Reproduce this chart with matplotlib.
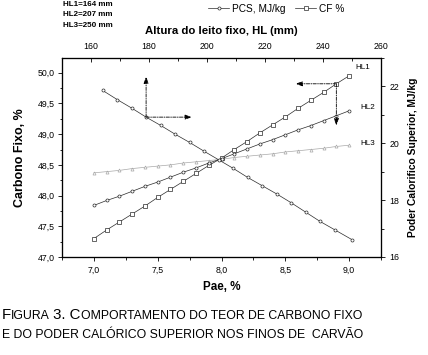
import numpy as np
import matplotlib
matplotlib.use("Agg")
import matplotlib.pyplot as plt
from matplotlib.lines import Line2D
from matplotlib.ticker import MultipleLocator, FuncFormatter

plt.rcParams['font.family'] = ['Liberation Sans', 'DejaVu Sans']

# ---- data ----
pae = [7.0, 7.1, 7.2, 7.3, 7.4, 7.5, 7.6, 7.7, 7.8, 7.9, 8.0,
       8.1, 8.2, 8.3, 8.4, 8.5, 8.6, 8.7, 8.8, 8.9, 9.0]
cf_hl1 = [47.30, 47.44, 47.57, 47.70, 47.83, 47.97, 48.10, 48.23, 48.36, 48.49, 48.61,
          48.75, 48.88, 49.02, 49.15, 49.28, 49.42, 49.55, 49.68, 49.82, 49.95]
cf_hl2 = [47.84, 47.92, 47.99, 48.07, 48.15, 48.22, 48.30, 48.38, 48.45, 48.53, 48.60,
          48.68, 48.76, 48.84, 48.91, 48.99, 49.07, 49.14, 49.22, 49.30, 49.38]
cf_hl3 = [48.37, 48.39, 48.41, 48.44, 48.46, 48.48, 48.50, 48.53, 48.55, 48.57, 48.59,
          48.62, 48.64, 48.66, 48.68, 48.71, 48.73, 48.75, 48.77, 48.80, 48.82]
hl = [164, 169, 174, 179, 184, 189, 194, 199, 204, 209, 214, 219, 224, 229, 234, 239, 244, 250]
pcs = [21.86, 21.54, 21.24, 20.92, 20.63, 20.32, 20.03, 19.72, 19.42, 19.12,
       18.80, 18.51, 18.22, 17.91, 17.58, 17.25, 16.96, 16.61]
series_labels = ['HL1', 'HL2', 'HL3']
hl_info = ['HL1=164 mm', 'HL2=207 mm', 'HL3=250 mm']

W, H = 428, 355
fig = plt.figure(figsize=(W / 100, H / 100), dpi=100)
L, R, B, T = 62, 381, 257, 58
ax = fig.add_axes([L / W, (H - B) / H, (R - L) / W, (B - T) / H])
axr = ax.twinx()
axt = axr.twiny()

dark = '#2a2a2a'
light = '#a8a8a8'
ms = 2.2
lw = 0.5
ax.plot(pae, cf_hl1, '-', marker='s', color=dark, lw=lw, ms=ms, mfc='white', mec=dark, mew=0.5, zorder=3)
ax.plot(pae, cf_hl2, '-', marker='o', color=dark, lw=lw, ms=ms, mfc='white', mec=dark, mew=0.5, zorder=3)
ax.plot(pae, cf_hl3, '-', marker='^', color=light, lw=lw, ms=ms, mfc='white', mec=light, mew=0.5, zorder=2)
axt.plot(hl, pcs, '-', marker='o', color=dark, lw=lw, ms=ms, mfc='white', mec=dark, mew=0.5)

ax.set_xlim(6.75, 9.25)
ax.set_ylim(47.0, 50.24)
axr.set_ylim(16, 23)
axt.set_xlim(150, 260)

comma = FuncFormatter(lambda v, p: ('%.1f' % v).replace('.', ','))
ax.xaxis.set_major_locator(MultipleLocator(0.5))
ax.xaxis.set_minor_locator(MultipleLocator(0.25))
ax.yaxis.set_major_locator(MultipleLocator(0.5))
ax.yaxis.set_minor_locator(MultipleLocator(0.25))
ax.xaxis.set_major_formatter(comma)
ax.yaxis.set_major_formatter(comma)
axr.yaxis.set_major_locator(MultipleLocator(2))
axr.yaxis.set_minor_locator(MultipleLocator(1))
axt.xaxis.set_major_locator(MultipleLocator(20))
axt.xaxis.set_minor_locator(MultipleLocator(10))

fs_tick = 6.3
ax.tick_params(axis='both', which='major', direction='out', length=3, width=0.6, labelsize=fs_tick, pad=2.5)
ax.tick_params(axis='both', which='minor', direction='out', length=1.8, width=0.6)
ax.tick_params(axis='x', which='major', pad=3.5)
axr.tick_params(axis='y', which='major', direction='out', length=3, width=0.6, labelsize=fs_tick, pad=3)
axr.tick_params(axis='y', which='minor', direction='out', length=1.8, width=0.6)
axt.tick_params(axis='x', which='major', direction='in', length=3, width=0.6, labelsize=fs_tick, pad=5)
axt.tick_params(axis='x', which='minor', direction='in', length=1.8, width=0.6)
for a in (ax, axr, axt):
    for s in a.spines.values():
        s.set_linewidth(0.8)

ax.set_xlabel('Pae, %', fontsize=8.4, fontweight='bold', labelpad=4)
ax.set_ylabel('Carbono Fixo, %', fontsize=9, fontweight='bold', labelpad=8)
axr.set_ylabel('Poder Calorifico Superior, MJ/kg', fontsize=7.4, fontweight='bold', labelpad=6)
axt.set_xlabel('Altura do leito fixo, HL (mm)', fontsize=8.2, fontweight='bold', labelpad=6)

# series labels
ax.text(9.048, 50.08, series_labels[0], fontsize=5.9, va='center', ha='left')
ax.text(9.087, 49.44, series_labels[1], fontsize=5.9, va='center', ha='left')
ax.text(9.087, 48.84, series_labels[2], fontsize=5.9, va='center', ha='left')

# arrows
ap = dict(arrowstyle='-|>,head_length=0.4,head_width=0.14', linestyle=(0, (4, 1.5, 1, 1.5)),
          lw=0.6, color='black', shrinkA=0, shrinkB=0)
o1 = (hl[3], pcs[3])
axt.annotate('', xy=(o1[0], 22.35), xytext=o1, arrowprops=ap)
axt.annotate('', xy=(194.8, o1[1]), xytext=o1, arrowprops=ap)
o2 = (pae[19], cf_hl1[19])
ax.annotate('', xy=(8.58, o2[1]), xytext=o2, arrowprops=ap)
ax.annotate('', xy=(o2[0], 49.14), xytext=o2, arrowprops=ap)

# HL info text (top-left)
for i, t in enumerate(hl_info):
    fig.text(63 / W, 1 - (4.5 + 10.4 * i) / H, t, fontsize=5.8, fontweight='bold', va='center', ha='left')

# legend
handles = [Line2D([], [], color=dark, lw=lw, marker='o', ms=ms, mfc='white', mec=dark, mew=0.5),
           Line2D([], [], color=dark, lw=lw, marker='s', ms=ms, mfc='white', mec=dark, mew=0.5)]
fig.legend(handles, ['PCS, MJ/kg', 'CF %'], ncol=2, frameon=False, fontsize=7.3,
           loc='center left', bbox_to_anchor=(208 / W, 1 - 8.5 / H), handlelength=2.1,
           handletextpad=0.3, columnspacing=0.9, borderpad=0, borderaxespad=0)

# caption with small caps
fig.canvas.draw()
renderer = fig.canvas.get_renderer()
big, small = 10.8, 8.8

def caption_line(x_px, base_px, parts):
    x = x_px
    for txt, is_big in parts:
        t = fig.text(x / W, base_px / H, txt, fontsize=big if is_big else small,
                     va='baseline', ha='left')
        ext = t.get_window_extent(renderer)
        x = ext.x1

caption_line(1.5, H - 319, [('F', True), ('IGURA', False), (' 3. C', True),
                            ('OMPORTAMENTO DO TEOR DE CARBONO FIXO', False)])
caption_line(1.5, H - 337.7, [('E DO PODER CALÓRICO SUPERIOR NOS FINOS DE  CARVÃO', False)])

fig.savefig('out.png', dpi=100)
